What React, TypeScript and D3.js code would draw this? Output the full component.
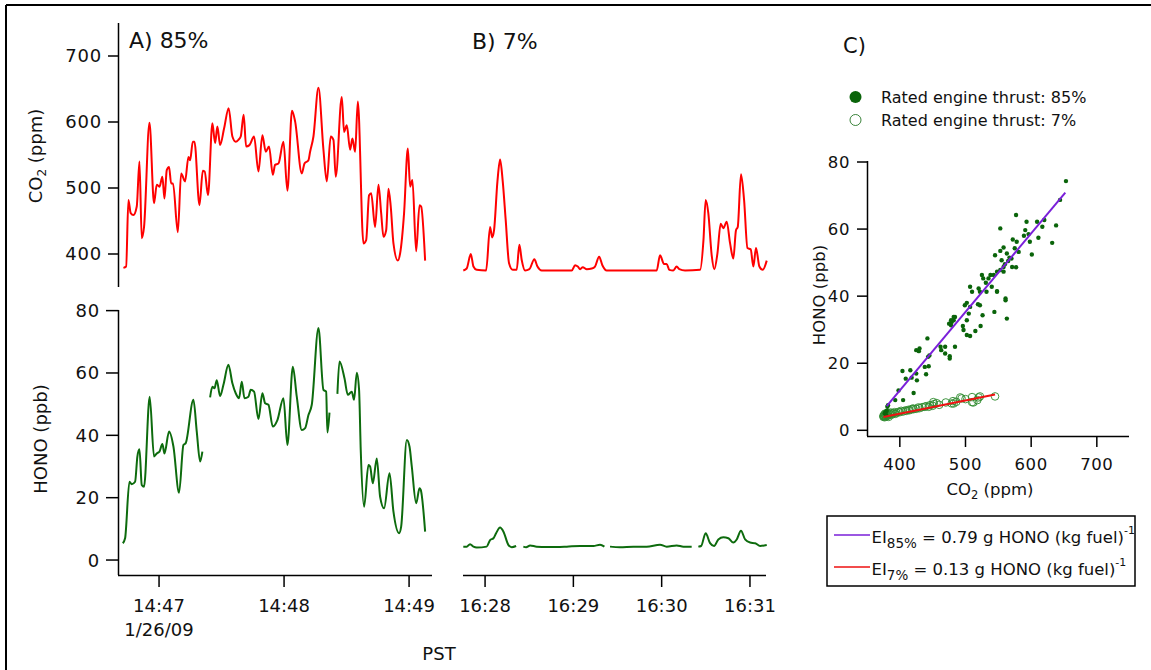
import React from "react";
import * as d3 from "d3";

// ---------- Panel A (85% thrust), seconds after 14:46:00 PST, 1/26/09 ----------
const CO2_A_SEC = [42.9, 44.2, 45.3, 46.4, 47.7, 49.3, 50.6, 51.7, 52.8, 55.4, 57.6, 58.9, 60.2, 61.6, 62.6, 63.7, 64.8, 65.8, 66.7, 69.0, 70.6, 72.5, 74.1, 74.9, 76.2, 77.0, 79.4, 81.0, 81.9, 83.5, 85.6, 86.9, 88.0, 89.3, 91.2, 93.4, 95.2, 96.8, 98.1, 99.2, 100.6, 101.8, 103.4, 105.6, 107.7, 109.6, 111.2, 112.8, 114.6, 115.7, 117.3, 119.7, 121.6, 123.8, 125.3, 128.5, 129.8, 131.7, 132.5, 134.1, 136.5, 138.9, 140.5, 142.4, 143.7, 144.8, 147.7, 148.8, 150.1, 151.7, 152.8, 154.1, 155.4, 158.1, 159.4, 160.8, 161.8, 163.7, 165.3, 166.6, 167.7, 169.0, 170.1, 171.2, 172.5, 174.6, 175.7, 177.6, 179.4, 180.5, 181.6, 183.4, 185.0, 185.8, 187.7];
const CO2_A_PPM = [379, 381, 482, 462, 459, 472, 540, 424, 441, 599, 477, 505, 502, 517, 484, 527, 532, 507, 507, 433, 522, 510, 547, 542, 570, 570, 474, 526, 525, 489, 598, 568, 593, 565, 590, 621, 578, 570, 573, 578, 611, 563, 565, 578, 525, 580, 555, 563, 520, 535, 537, 570, 496, 617, 601, 522, 537, 542, 555, 578, 652, 558, 510, 578, 573, 517, 638, 585, 595, 558, 575, 555, 631, 416, 421, 489, 492, 441, 505, 462, 426, 436, 499, 472, 416, 390, 401, 462, 560, 502, 512, 404, 474, 472, 390];

const HONO_A_SEC = [42.6, 43.7, 45.8, 46.9, 48.5, 49.6, 50.6, 51.7, 52.8, 55.5, 57.6, 58.9, 60.2, 61.6, 62.6, 64.8, 66.9, 69.6, 71.7, 72.8, 76.5, 78.1, 79.7, 80.8, 82.5,
  84.5, 85.6, 86.6, 87.7, 89.3, 90.9, 93.3, 95.2, 96.8, 98.4, 99.7, 101.0, 102.9, 104.0, 105.6, 107.7, 109.6, 110.9, 112.5, 114.6, 116.8, 119.7, 121.6, 124.2, 126.1, 128.5, 130.1, 131.7, 133.3, 136.5, 138.9, 140.2, 140.8, 141.8, 143.5,
  145.6, 146.6, 149.0, 150.6, 152.5, 153.6, 154.9, 156.0, 156.8, 158.4, 160.5, 161.3, 162.6, 164.5, 166.1, 168.0, 170.6, 172.5, 175.2, 176.2, 178.9, 180.2, 181.3, 183.4, 185.0, 185.6, 187.7];
const HONO_A_PPB: (number | null)[] = [5.4, 7.0, 25.1, 24.3, 25.1, 33.2, 35.5, 24.1, 23.5, 52.4, 33.2, 34.2, 34.8, 37.2, 34.2, 41.2, 36.4, 21.6, 36.9, 37.5, 51.4, 41.2, 31.6, 34.8, null,
  52.2, 55.6, 55.1, 57.7, 52.6, 56.2, 62.6, 56.7, 53.5, 51.9, 57.2, 51.9, 52.4, 54.6, 54.0, 45.2, 53.5, 50.3, 49.8, 42.8, 44.9, 51.9, 36.9, 62.0, 52.4, 41.7, 42.3, 46.5, 49.8, 74.4, 54.6, 54.0, 40.9, 47.3, null,
  53.3, 63.7, 58.3, 53.0, 54.0, 51.4, 60.1, 54.6, 35.3, 17.1, 30.5, 30.0, 24.6, 32.6, 20.3, 16.6, 27.8, 15.5, 8.6, 10.7, 38.5, 36.4, 30.0, 18.2, 23.0, 22.5, 9.1];

// ---------- Panel B (7% thrust), seconds after 16:27:00 PST ----------
const CO2_B_SEC = [45.2, 47.5, 50.3, 52.1, 54.3, 60.7, 63.4, 64.8, 66.1, 68.4, 70.2, 72.0, 74.0, 76.3, 78.8, 81.5, 83.3, 84.9, 87.2, 90.1, 93.5, 95.6, 98.5, 118.9, 121.2, 123.0, 124.6, 126.4, 129.1, 132.5, 134.7, 137.5, 139.7, 142.7, 176.6, 178.9, 181.6, 183.4, 185.2, 187.9, 190.2, 192.0, 195.9, 206.1, 208.4, 209.9, 211.7, 214.0, 215.8, 217.9, 220.1, 221.9, 224.2, 226.5, 228.7, 230.5, 231.7, 233.9, 236.0, 238.3, 240.5, 242.3, 244.1, 246.4, 248.7, 251.4];
const CO2_B_PPM = [375, 378, 400, 381, 376, 375, 441, 425, 436, 510, 543, 510, 452, 386, 376, 376, 414, 391, 375, 377, 392, 381, 375, 375, 383, 381, 377, 380, 377, 378, 381, 396, 383, 375, 375, 398, 385, 385, 376, 375, 381, 377, 375, 376, 421, 482, 462, 398, 377, 401, 446, 439, 449, 416, 393, 436, 441, 521, 482, 409, 407, 381, 409, 381, 376, 390];

const HONO_B_SEC = [45.2, 47.5, 49.8, 52.1, 54.3, 61.1, 63.4, 65.7, 67.5, 70.2, 72.5, 75.9, 78.1, 81.1, 83.0,
  86.0, 87.9, 90.6, 95.1, 101.9, 108.7, 115.5, 124.6, 133.6, 138.1, 141.1, 143.0,
  144.9, 151.7, 160.8, 169.8, 178.9, 183.4, 190.2, 194.8, 200.4, 202.5,
  204.9, 206.8, 209.9, 212.9, 215.6, 218.5, 221.9, 225.3, 228.7, 231.0, 233.9, 236.7, 240.1, 243.5, 246.9, 251.4];
const HONO_B_PPB: (number | null)[] = [4.3, 4.3, 5.1, 4.3, 4.0, 4.3, 6.4, 7.0, 8.6, 10.4, 9.1, 4.8, 4.1, 4.5, null,
  4.3, 4.1, 4.7, 4.3, 4.2, 4.2, 4.3, 4.5, 4.5, 4.9, 4.3, null,
  4.3, 4.1, 4.3, 4.3, 4.9, 4.3, 4.7, 4.3, 4.3, null,
  4.3, 4.5, 8.6, 5.4, 4.5, 6.6, 7.3, 7.0, 5.6, 6.6, 9.4, 6.6, 5.6, 5.4, 4.5, 4.8];

// ---------- Panel C scatter ----------
const SC85_CO2 = [653, 644, 577, 593, 609, 620, 638, 553, 591, 589, 617, 611, 632, 601, 596, 598, 572, 578, 575, 558, 553, 545, 563, 567, 570, 565, 581, 571, 577, 555, 558, 560, 553, 548, 558, 543, 538, 525, 527, 535, 531, 507, 520, 522, 532, 510, 540, 548, 561, 561, 563, 548, 544, 526, 522, 519, 507, 502, 499, 505, 502, 507, 502, 515, 523, 497, 496, 484, 479, 478, 475, 482, 482, 478, 469, 462, 463, 469, 476, 476, 484, 442, 425, 430, 429, 443, 445, 438, 444, 440, 416, 425, 404, 409, 418, 426, 421, 398, 393, 405, 382, 378, 381, 380, 377, 379];
const SC85_HONO = [74.3, 68.7, 64.2, 62.2, 62.2, 62.7, 61.1, 60.2, 59.7, 58.0, 60.7, 57.4, 55.9, 52.4, 58.5, 56.2, 56.9, 56.2, 54.3, 54.5, 53.5, 52.2, 52.7, 51.5, 51.2, 50.5, 53.2, 48.7, 48.6, 50.7, 48.7, 49.5, 47.8, 47.3, 47.3, 46.3, 46.3, 46.3, 45.3, 45.3, 44.0, 42.8, 42.3, 41.3, 41.3, 41.3, 42.8, 41.5, 39.3, 38.8, 33.3, 41.3, 35.3, 34.3, 37.3, 37.6, 36.8, 38.0, 37.3, 34.8, 32.8, 28.1, 28.4, 29.6, 31.1, 29.9, 31.1, 33.8, 32.3, 31.3, 31.8, 32.8, 33.8, 32.8, 24.9, 24.9, 23.9, 22.9, 22.1, 21.4, 24.9, 27.4, 23.9, 24.4, 23.6, 21.9, 22.3, 18.9, 19.1, 16.7, 17.9, 16.9, 17.7, 15.4, 15.7, 14.9, 11.1, 11.9, 9.0, 9.0, 7.5, 5.4, 7.0, 5.8, 5.0, 4.6];
const SC7_CO2 = [375, 375, 376, 376, 377, 377, 378, 378, 379, 380, 381, 381, 382, 383, 384, 385, 386, 387, 388, 390, 392, 393, 395, 398, 400, 402, 405, 408, 410, 413, 415, 418, 420, 421, 425, 428, 430, 434, 438, 440, 444, 446, 450, 451, 452, 456, 460, 470, 479, 481, 482, 486, 492, 494, 500, 510, 510, 512, 518, 520, 522, 545];
const SC7_HONO = [4.3, 4.0, 4.5, 4.2, 4.8, 3.9, 4.4, 5.0, 4.1, 4.6, 4.3, 5.2, 4.7, 4.0, 5.0, 4.8, 5.3, 4.6, 5.1, 5.0, 5.4, 4.9, 5.2, 5.5, 5.4, 5.8, 5.6, 5.9, 5.8, 6.1, 6.0, 6.3, 6.5, 6.3, 6.4, 6.8, 6.6, 6.9, 7.0, 7.2, 7.0, 7.5, 7.3, 8.4, 7.8, 8.1, 7.6, 8.3, 8.0, 8.7, 8.0, 8.5, 9.8, 9.5, 9.3, 9.9, 8.4, 8.3, 9.0, 9.8, 10.1, 10.1];

// Linear fits: HONO = slope * CO2 + intercept
const FIT_LABELS = ["85%", "7%"];
const FIT_EI = ["0.79", "0.13"];
const FIT_SLOPE = [0.234, 0.0394];
const FIT_INTERCEPT = [-81.7, -10.8];
const FIT_RANGE = [[380, 652], [375, 545]];

const CO2_TICKS = [400, 500, 600, 700];
const HONO_TICKS = [0, 20, 40, 60, 80];
const TIME_A_TICKS = [60, 120, 180];
const TIME_B_TICKS = [60, 120, 180, 240];
const SC_X_TICKS = [400, 500, 600, 700];
const SC_Y_TICKS = [0, 20, 40, 60, 80];

const BASE_A = new Date(2009, 0, 26, 14, 46, 0).getTime();
const BASE_B = new Date(2009, 0, 26, 16, 27, 0).getTime();
const tA = (s: number) => new Date(BASE_A + s * 1000);
const tB = (s: number) => new Date(BASE_B + s * 1000);

const FONT = "'DejaVu Sans', Verdana, sans-serif";
const RED = "#ff0000";
const GREEN = "#0d6b0d";
const DOT = "#0a640a";
const PURPLE = "#7a1fd9";
const FIT_COLORS = [PURPLE, "#ee1111"];

export default function App() {
  const fmt = d3.timeFormat("%H:%M");
  const xA = d3.scaleTime().domain([tA(40.3), tA(191)]).range([118, 432]);
  const xB = d3.scaleTime().domain([tB(45), tB(250.9)]).range([463, 766]);
  const yCO2 = d3.scaleLinear().domain([350, 750]).range([287, 23]);
  const yHONO = d3.scaleLinear().domain([-4.8, 80.2]).range([575, 310]);
  const xC = d3.scaleLinear().domain([350, 749]).range([867, 1129]);
  const yC = d3.scaleLinear().domain([-1.7, 80.3]).range([436, 161]);

  const mk = (T: number[], V: (number | null)[], x: any, tf: (s: number) => Date, y: any) =>
    d3
      .line<number>()
      .defined((i) => V[i] != null)
      .curve(d3.curveMonotoneX)
      .x((i) => x(tf(T[i])))
      .y((i) => y(V[i] as number))(d3.range(T.length)) as string;

  const co2A = mk(CO2_A_SEC, CO2_A_PPM, xA, tA, yCO2);
  const honoA = mk(HONO_A_SEC, HONO_A_PPB, xA, tA, yHONO);
  const co2B = mk(CO2_B_SEC, CO2_B_PPM, xB, tB, yCO2);
  const honoB = mk(HONO_B_SEC, HONO_B_PPB, xB, tB, yHONO);

  const txt = { fontFamily: FONT, fill: "#111" } as const;

  return (
    <svg width={1151} height={670} style={{ position: "absolute", left: 0, top: 0, background: "#fff" }}>
      <rect x={0} y={0} width={1151} height={670} fill="#fff" />
      {/* outer frame */}
      <line x1={6} y1={5} x2={1151} y2={5} stroke="#000" strokeWidth={2} />
      <line x1={6} y1={5} x2={6} y2={670} stroke="#000" strokeWidth={2} />

      {/* ---------- Panel A CO2 ---------- */}
      <line x1={118.5} y1={23} x2={118.5} y2={287} stroke="#000" strokeWidth={1.5} />
      {CO2_TICKS.map((v) => (
        <g key={"ca" + v}>
          <line x1={108} x2={118.5} y1={yCO2(v)} y2={yCO2(v)} stroke="#000" strokeWidth={1.5} />
          <text x={102} y={yCO2(v)} dy="0.36em" textAnchor="end" fontSize={18} letterSpacing={0.8} {...txt}>{v}</text>
        </g>
      ))}
      <text transform="translate(42,156) rotate(-90)" textAnchor="middle" fontSize={18} {...txt}>
        CO<tspan fontSize={12} dy={4}>2</tspan><tspan dy={-4}> (ppm)</tspan>
      </text>
      <path d={co2A} fill="none" stroke={RED} strokeWidth={2} strokeLinejoin="round" />
      <text x={129} y={48} fontSize={22} {...txt}>A) 85%</text>

      {/* ---------- Panel A HONO ---------- */}
      <line x1={118.5} y1={310} x2={118.5} y2={575} stroke="#000" strokeWidth={1.5} />
      <line x1={118} y1={575.5} x2={432} y2={575.5} stroke="#000" strokeWidth={1.5} />
      {HONO_TICKS.map((v) => (
        <g key={"ha" + v}>
          <line x1={106} x2={118.5} y1={yHONO(v)} y2={yHONO(v)} stroke="#000" strokeWidth={1.5} />
          <text x={100} y={yHONO(v)} dy="0.36em" textAnchor="end" fontSize={18} letterSpacing={0.8} {...txt}>{v}</text>
        </g>
      ))}
      <text transform="translate(46.5,439) rotate(-90)" textAnchor="middle" fontSize={18} {...txt}>HONO (ppb)</text>
      {TIME_A_TICKS.map((s) => (
        <g key={"ta" + s}>
          <line x1={xA(tA(s))} x2={xA(tA(s))} y1={575.5} y2={587} stroke="#000" strokeWidth={1.5} />
          <text x={xA(tA(s))} y={612} textAnchor="middle" fontSize={18} {...txt}>{fmt(tA(s))}</text>
        </g>
      ))}
      <text x={xA(tA(60))} y={636} textAnchor="middle" fontSize={18} {...txt}>{d3.timeFormat("%-m/%d/%y")(tA(60))}</text>
      <path d={honoA} fill="none" stroke={GREEN} strokeWidth={2} strokeLinejoin="round" />

      {/* ---------- Panel B ---------- */}
      <text x={472} y={49} fontSize={22} {...txt}>B) 7%</text>
      <path d={co2B} fill="none" stroke={RED} strokeWidth={2} strokeLinejoin="round" />
      <path d={honoB} fill="none" stroke={GREEN} strokeWidth={2} strokeLinejoin="round" />
      <line x1={463} y1={575.5} x2={766} y2={575.5} stroke="#000" strokeWidth={1.5} />
      {TIME_B_TICKS.map((s) => (
        <g key={"tb" + s}>
          <line x1={xB(tB(s))} x2={xB(tB(s))} y1={575.5} y2={587} stroke="#000" strokeWidth={1.5} />
          <text x={xB(tB(s))} y={612} textAnchor="middle" fontSize={18} {...txt}>{fmt(tB(s))}</text>
        </g>
      ))}
      <text x={439} y={660} textAnchor="middle" fontSize={18} {...txt}>PST</text>

      {/* ---------- Panel C ---------- */}
      <text x={843} y={53} fontSize={21} {...txt}>C)</text>
      <circle cx={855.5} cy={97} r={6} fill={DOT} />
      <circle cx={855.5} cy={120} r={5.5} fill="none" stroke={DOT} strokeWidth={0.8} />
      <text x={881} y={103} fontSize={16} {...txt}>Rated engine thrust: 85%</text>
      <text x={881} y={126} fontSize={16} {...txt}>Rated engine thrust: 7%</text>

      <line x1={867.5} y1={161} x2={867.5} y2={436} stroke="#000" strokeWidth={1.5} />
      <line x1={867} y1={436.5} x2={1129} y2={436.5} stroke="#000" strokeWidth={1.5} />
      {SC_Y_TICKS.map((v) => (
        <g key={"cy" + v}>
          <line x1={857} x2={867.5} y1={yC(v)} y2={yC(v)} stroke="#000" strokeWidth={1.5} />
          <text x={850} y={yC(v)} dy="0.36em" textAnchor="end" fontSize={16.5} letterSpacing={0.6} {...txt}>{v}</text>
        </g>
      ))}
      {SC_X_TICKS.map((v) => (
        <g key={"cx" + v}>
          <line x1={xC(v)} x2={xC(v)} y1={436.5} y2={447} stroke="#000" strokeWidth={1.5} />
          <text x={xC(v)} y={470} textAnchor="middle" fontSize={16.5} letterSpacing={0.6} {...txt}>{v}</text>
        </g>
      ))}
      <text x={990} y={495} textAnchor="middle" fontSize={16.5} {...txt}>
        CO<tspan fontSize={11.5} dy={4}>2</tspan><tspan dy={-4}> (ppm)</tspan>
      </text>
      <text transform="translate(825,295) rotate(-90)" textAnchor="middle" fontSize={16.5} {...txt}>HONO (ppb)</text>

      {SC7_CO2.map((c, i) => (
        <circle key={"o" + i} cx={xC(c)} cy={yC(SC7_HONO[i])} r={3.8} fill="none" stroke="#2e8a2e" strokeWidth={0.9} />
      ))}
      {SC85_CO2.map((c, i) => (
        <circle key={"f" + i} cx={xC(c)} cy={yC(SC85_HONO[i])} r={2.2} fill={DOT} />
      ))}
      {FIT_SLOPE.map((m, i) => (
        <line key={"fit" + i}
          x1={xC(FIT_RANGE[i][0])} y1={yC(m * FIT_RANGE[i][0] + FIT_INTERCEPT[i])}
          x2={xC(FIT_RANGE[i][1])} y2={yC(m * FIT_RANGE[i][1] + FIT_INTERCEPT[i])}
          stroke={FIT_COLORS[i]} strokeWidth={2} />
      ))}

      {/* fit legend box */}
      <rect x={827} y={516} width={308} height={70} fill="#fff" stroke="#000" strokeWidth={1.5} />
      {FIT_LABELS.map((lab, i) => {
        const yy = 535 + i * 32;
        return (
          <g key={"lg" + i}>
            <line x1={834} x2={870} y1={yy} y2={yy} stroke={FIT_COLORS[i]} strokeWidth={1.5} />
            <text x={871.5} y={yy + 7.5} fontSize={16.5} {...txt}>
              EI<tspan fontSize={13.5} dy={5}>{lab}</tspan>
              <tspan dy={-5}>{" = " + FIT_EI[i] + " g HONO (kg fuel)"}</tspan>
              <tspan fontSize={11} dy={-9}>-1</tspan>
            </text>
          </g>
        );
      })}
    </svg>
  );
}
